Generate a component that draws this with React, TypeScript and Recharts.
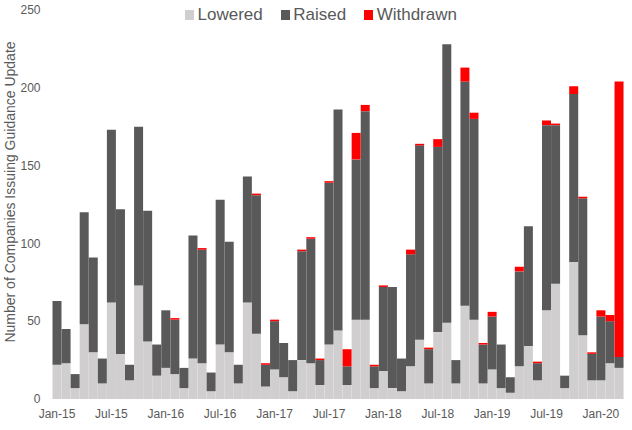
import { BarChart, Bar, XAxis, YAxis } from 'recharts';

// monthly guidance updates, Jan-15 .. Mar-20
const monthNames = ['Jan', 'Feb', 'Mar', 'Apr', 'May', 'Jun', 'Jul', 'Aug', 'Sep', 'Oct', 'Nov', 'Dec'];
const years = ['15', '16', '17', '18', '19', '20'];
const months = years.flatMap((y) => monthNames.map((m) => `${m}-${y}`)).slice(0, 63);

const lowered = [
    22, 23, 7, 48, 30, 10, 62, 29, 12, 73, 37, 15,
    20, 16, 7, 26, 23, 5, 35, 30, 10, 62, 42, 8,
    19, 14, 5, 25, 23, 9, 35, 44, 9, 51, 51, 7,
    18, 7, 5, 21, 38, 10, 43, 49, 10, 60, 51, 10,
    19, 7, 4, 21, 34, 12, 57, 74, 7, 88, 41, 12,
    12, 23, 20,
];
const raised = [
    41, 22, 9, 72, 61, 16, 111, 93, 10, 102, 84, 20,
    37, 35, 13, 79, 73, 12, 93, 71, 12, 81, 89, 14,
    31, 22, 20, 70, 80, 16, 104, 142, 12, 103, 134, 14,
    54, 65, 21, 72, 125, 22, 119, 179, 15, 144, 129, 25,
    34, 28, 10, 61, 77, 11, 119, 102, 8, 108, 88, 17,
    41, 27, 7,
];
const withdrawn = [
    0, 0, 0, 0, 0, 0, 0, 0, 0, 0, 0, 0,
    0, 1, 0, 0, 1, 0, 0, 0, 0, 0, 1, 1,
    1, 0, 0, 1, 1, 1, 1, 0, 11, 17, 4, 1,
    1, 0, 0, 3, 1, 1, 5, 0, 0, 9, 4, 1,
    3, 0, 0, 3, 0, 1, 3, 1, 0, 5, 1, 1,
    4, 4, 177,
];
const yTicks = [0, 50, 100, 150, 200, 250];

const data = months.map((month, i) => ({
    month,
    lowered: lowered[i],
    raised: raised[i],
    withdrawn: withdrawn[i],
}));

const series = [
    { key: 'lowered', name: 'Lowered', color: '#d0cece' },
    { key: 'raised', name: 'Raised', color: '#595959' },
    { key: 'withdrawn', name: 'Withdrawn', color: '#ff0000' },
];

const font = '"Liberation Sans", Arial, sans-serif';

export default function App() {
    return (
        <div style={{ position: 'absolute', left: 0, top: 0, width: 632, height: 430, background: '#fff', fontFamily: font }}>
            <BarChart
                width={632}
                height={430}
                data={data}
                margin={{ top: 10, right: 8.4, bottom: 0, left: 0 }}
                barCategoryGap={0}
                barGap={0}
            >
                <XAxis
                    dataKey="month"
                    interval={5}
                    axisLine={false}
                    tickLine={false}
                    tickSize={8}
                    height={31}
                    tick={{ fontSize: 12, fill: '#595959', fontFamily: font }}
                />
                <YAxis
                    width={52.5}
                    domain={[0, 250]}
                    ticks={yTicks}
                    axisLine={false}
                    tickLine={false}
                    tickSize={10}
                    tick={{ fontSize: 12, fill: '#595959', fontFamily: font }}
                    label={{
                        content: () => (
                            <text
                                x={10}
                                y={192}
                                transform="rotate(-90 10 192)"
                                textAnchor="middle"
                                dominantBaseline="central"
                                fontSize={14}
                                fill="#595959"
                                fontFamily={font}
                            >
                                Number of Companies Issuing Guidance Update
                            </text>
                        ),
                    }}
                />
                {series.map((s) => (
                    <Bar key={s.key} dataKey={s.key} name={s.name} stackId="a" fill={s.color} isAnimationActive={false} />
                ))}
            </BarChart>

            {/* legend sits over the top of the plot, like the original */}
            <div style={{ position: 'absolute', left: 185, top: 5, display: 'flex', alignItems: 'center', fontSize: 17, color: '#595959', lineHeight: '20px' }}>
                {series.map((s) => (
                    <div key={s.key} style={{ display: 'flex', alignItems: 'center', marginRight: 18 }}>
                        <span style={{ width: 9, height: 10, background: s.color, marginRight: 3.5, display: 'inline-block' }} />
                        <span>{s.name}</span>
                    </div>
                ))}
            </div>
        </div>
    );
}
